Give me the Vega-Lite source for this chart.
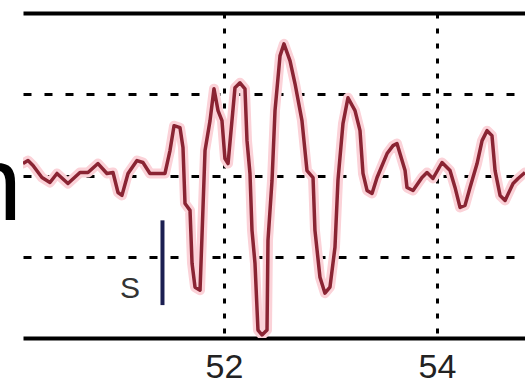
{
  "$schema": "https://vega.github.io/schema/vega-lite/v6.json",
  "width": 502,
  "height": 325,
  "autosize": {"type": "none"},
  "padding": {"left": 23, "top": 13, "right": 0, "bottom": 52},
  "background": "white",
  "config": {"view": {"stroke": null}},
  "datasets": {
    "wave": [
      {"t": 50.113, "a": 0.147}, {"t": 50.160, "a": 0.184}, {"t": 50.207, "a": 0.123}, {"t": 50.291, "a": -0.025},
      {"t": 50.366, "a": -0.086}, {"t": 50.432, "a": 0.025}, {"t": 50.535, "a": -0.098}, {"t": 50.648, "a": 0.037},
      {"t": 50.723, "a": 0.037}, {"t": 50.817, "a": 0.147}, {"t": 50.901, "a": 0.025}, {"t": 50.958, "a": 0.037},
      {"t": 51.005, "a": -0.209}, {"t": 51.042, "a": -0.245}, {"t": 51.099, "a": 0.025}, {"t": 51.183, "a": 0.184},
      {"t": 51.239, "a": 0.160}, {"t": 51.305, "a": 0.025}, {"t": 51.446, "a": 0.025}, {"t": 51.493, "a": 0.307},
      {"t": 51.531, "a": 0.613}, {"t": 51.587, "a": 0.589}, {"t": 51.615, "a": 0.344}, {"t": 51.634, "a": -0.344},
      {"t": 51.681, "a": -0.429}, {"t": 51.700, "a": -1.080}, {"t": 51.728, "a": -1.374}, {"t": 51.775, "a": -1.411},
      {"t": 51.793, "a": -0.761}, {"t": 51.822, "a": 0.307}, {"t": 51.869, "a": 0.675}, {"t": 51.906, "a": 1.067},
      {"t": 51.944, "a": 0.798}, {"t": 51.981, "a": 0.675}, {"t": 52.009, "a": 0.209}, {"t": 52.038, "a": 0.147},
      {"t": 52.103, "a": 1.080}, {"t": 52.150, "a": 1.141}, {"t": 52.197, "a": 1.067}, {"t": 52.216, "a": 0.429},
      {"t": 52.244, "a": 0.025}, {"t": 52.263, "a": -0.675}, {"t": 52.291, "a": -1.080}, {"t": 52.319, "a": -1.902},
      {"t": 52.357, "a": -1.963}, {"t": 52.404, "a": -1.902}, {"t": 52.413, "a": -0.798}, {"t": 52.451, "a": -0.061},
      {"t": 52.479, "a": 0.798}, {"t": 52.526, "a": 1.472}, {"t": 52.563, "a": 1.620}, {"t": 52.620, "a": 1.411},
      {"t": 52.667, "a": 1.129}, {"t": 52.732, "a": 0.675}, {"t": 52.779, "a": 0.061}, {"t": 52.836, "a": -0.025},
      {"t": 52.854, "a": -0.675}, {"t": 52.901, "a": -1.252}, {"t": 52.948, "a": -1.448}, {"t": 52.995, "a": -1.374},
      {"t": 53.042, "a": -0.883}, {"t": 53.070, "a": -0.061}, {"t": 53.117, "a": 0.638}, {"t": 53.164, "a": 0.957},
      {"t": 53.230, "a": 0.798}, {"t": 53.277, "a": 0.552}, {"t": 53.305, "a": 0.025}, {"t": 53.343, "a": -0.184},
      {"t": 53.390, "a": -0.221}, {"t": 53.437, "a": -0.025}, {"t": 53.531, "a": 0.270}, {"t": 53.587, "a": 0.368},
      {"t": 53.624, "a": 0.393}, {"t": 53.700, "a": 0.061}, {"t": 53.718, "a": -0.147}, {"t": 53.775, "a": -0.184},
      {"t": 53.859, "a": -0.025}, {"t": 53.906, "a": 0.037}, {"t": 53.962, "a": -0.037}, {"t": 54.047, "a": 0.160},
      {"t": 54.122, "a": 0.061}, {"t": 54.169, "a": -0.147}, {"t": 54.216, "a": -0.393}, {"t": 54.263, "a": -0.368},
      {"t": 54.310, "a": -0.147}, {"t": 54.376, "a": 0.147}, {"t": 54.423, "a": 0.429}, {"t": 54.470, "a": 0.552},
      {"t": 54.516, "a": 0.491}, {"t": 54.545, "a": 0.061}, {"t": 54.592, "a": -0.245}, {"t": 54.639, "a": -0.307},
      {"t": 54.714, "a": -0.098}, {"t": 54.761, "a": -0.037}, {"t": 54.826, "a": 0.037}
    ],
    "pick": [{"t": 51.4225, "a1": -0.552, "a2": -1.595}],
    "labels": [
      {"t": 51.117, "a": -1.40, "text": "S"}
    ],
    "side": [
      {"t": 50.103, "a": -0.552, "text": "n"}
    ]
  },
  "layer": [
    {
      "data": {"name": "wave"},
      "mark": {"type": "line", "color": "#fbd2d8", "strokeWidth": 10, "strokeJoin": "round", "strokeCap": "round", "clip": true},
      "encoding": {
        "x": {
          "field": "t", "type": "quantitative",
          "scale": {"domain": [50.113, 54.826], "nice": false, "zero": false},
          "axis": {
            "orient": "bottom", "title": null, "values": [50, 52, 54],
            "domain": true, "domainColor": "black", "domainWidth": 4,
            "ticks": false, "grid": true, "gridColor": "black", "gridWidth": 3, "gridDash": [5, 10], "gridOpacity": 1,
            "labelFont": "Liberation Sans", "labelFontSize": 34, "labelColor": "#222", "labelPadding": 12,
            "labelFlush": false, "labelOverlap": false
          }
        },
        "y": {
          "field": "a", "type": "quantitative",
          "scale": {"domain": [-2, 2], "nice": false},
          "axis": {
            "title": null, "values": [-1, 0, 1], "domain": false, "ticks": false, "labels": false,
            "grid": true, "gridColor": "black", "gridWidth": 3, "gridDash": [8, 13], "gridOpacity": 1
          }
        }
      }
    },
    {
      "data": {"name": "wave"},
      "mark": {"type": "line", "color": "#8a2433", "strokeWidth": 3.5, "strokeJoin": "round", "clip": true},
      "encoding": {
        "x": {"field": "t", "type": "quantitative", "axis": {"orient": "top", "title": null, "labels": false, "ticks": false, "grid": false, "domain": true, "domainColor": "black", "domainWidth": 4}},
        "y": {"field": "a", "type": "quantitative"}
      }
    },
    {
      "data": {"name": "pick"},
      "mark": {"type": "rule", "color": "#1c1f52", "strokeWidth": 4},
      "encoding": {
        "x": {"field": "t", "type": "quantitative", "axis": null},
        "y": {"field": "a1", "type": "quantitative"},
        "y2": {"field": "a2"}
      }
    },
    {
      "data": {"name": "labels"},
      "mark": {"type": "text", "font": "Liberation Sans", "fontSize": 30, "color": "#333", "align": "center", "baseline": "middle"},
      "encoding": {
        "x": {"field": "t", "type": "quantitative", "axis": null},
        "y": {"field": "a", "type": "quantitative"},
        "text": {"field": "text"}
      }
    },
    {
      "data": {"name": "side"},
      "mark": {"type": "text", "font": "Liberation Sans", "fontSize": 106, "color": "black", "align": "right", "baseline": "alphabetic"},
      "encoding": {
        "x": {"field": "t", "type": "quantitative", "axis": null},
        "y": {"field": "a", "type": "quantitative"},
        "text": {"field": "text"}
      }
    }
  ],
  "resolve": {"axis": {"x": "independent"}}
}
